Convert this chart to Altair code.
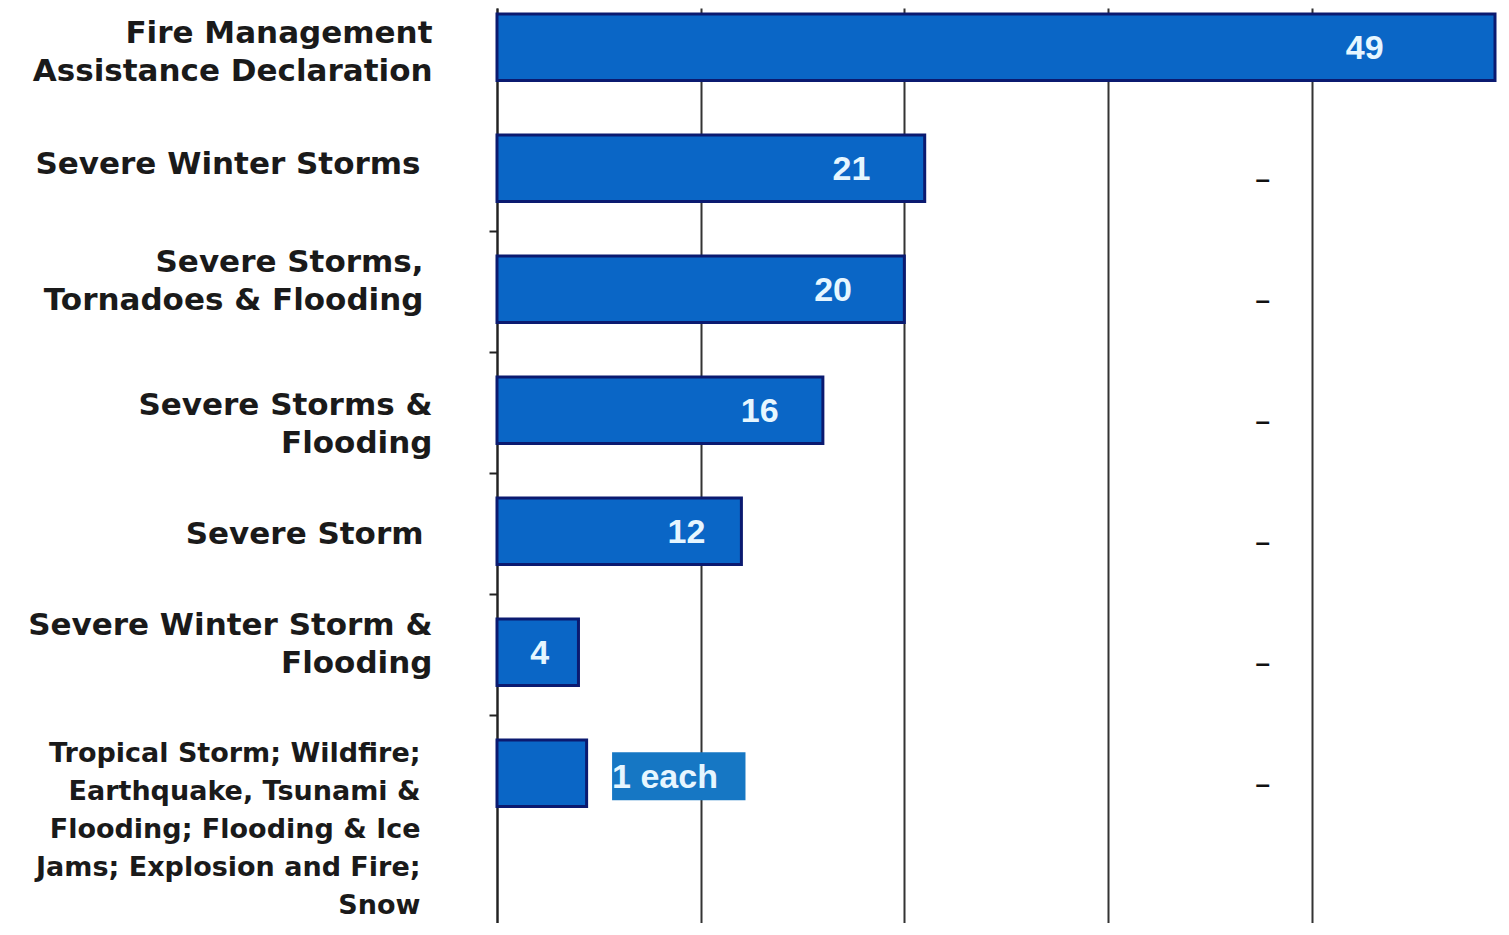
import altair as alt
import pandas as pd

categories = [
    "Fire Management\nAssistance Declaration",
    "Severe Winter Storms",
    "Severe Storms,\nTornadoes & Flooding",
    "Severe Storms &\nFlooding",
    "Severe Storm",
    "Severe Winter Storm &\nFlooding",
    "Tropical Storm; Wildfire;\nEarthquake, Tsunami &\nFlooding; Flooding & Ice\nJams; Explosion and Fire;\nSnow",
]
values = [49, 21, 20, 16, 12, 4, 4.4]
value_labels = ["49", "21", "20", "16", "12", "4", ""]
note_labels = ["", "", "", "", "", "", "1 each"]
dash_marks = ["", "–", "–", "–", "–", "–", "–"]
dash_x = [37.6] * 7
grid_values = [0, 10, 20, 30, 40]

df = pd.DataFrame({
    "cat": categories,
    "value": values,
    "vlabel": value_labels,
    "note": note_labels,
    "dash": dash_marks,
    "dash_x": dash_x,
})

FILL = "#0A66C6"
EDGE = "#0B1A70"
LABEL_FONT = "DejaVu Sans"

label_offset = {
    "condition": [
        {"test": "indexof(datum.value, 'Snow') >= 0", "value": -19},
        {"test": "indexof(datum.value, 'Storms &') >= 0", "value": -4},
        {"test": "indexof(datum.value, 'Tornadoes') >= 0", "value": -26},
        {"test": "indexof(datum.value, 'Storm &') >= 0", "value": -26},
        {"test": "indexof(datum.value, 'Fire Management') >= 0", "value": -13},
        {"test": "datum.value == 'Severe Storm'", "value": 4},
    ],
    "value": -3,
}
label_padding = {
    "condition": [
        {"test": "indexof(datum.value, 'Snow') >= 0", "value": 69},
        {"test": "datum.value == 'Severe Winter Storms'", "value": 69},
        {"test": "indexof(datum.value, 'Tornadoes') >= 0", "value": 66},
        {"test": "datum.value == 'Severe Storm'", "value": 66},
    ],
    "value": 57,
}
label_size = {
    "condition": {"test": "indexof(datum.value, 'Snow') >= 0", "value": 27},
    "value": 31,
}
tick_opacity = {
    "condition": {"test": "datum.value == 'Severe Winter Storms'", "value": 0},
    "value": 1,
}

y = alt.Y(
    "cat:N",
    sort=categories,
    title=None,
    scale=alt.Scale(paddingInner=0.45, paddingOuter=0.506, align=0.049),
    axis=alt.Axis(
        labelExpr="split(datum.label, '\\n')",
        labelFont=LABEL_FONT,
        labelFontWeight="bold",
        labelFontSize=label_size,
        labelLineHeight=38,
        labelColor="#1a1a1a",
        labelPadding=label_padding,
        labelLimit=600,
        labelOffset=label_offset,
        ticks=True,
        tickSize=8,
        tickColor="#222222",
        tickWidth=2,
        tickOpacity=tick_opacity,
        bandPosition=-0.375,
        domain=True,
        domainColor="#222222",
        domainWidth=2,
    ),
)

xscale = alt.Scale(domain=[0, 49], nice=False, zero=True)
xaxis = alt.Axis(
    values=grid_values,
    labels=False,
    ticks=False,
    domain=False,
    grid=True,
    gridColor="#333333",
    gridWidth=2,
    title=None,
)

base = alt.Chart(df)

bars = base.mark_bar(fill=FILL, stroke=EDGE, strokeWidth=3).encode(
    x=alt.X("value:Q", scale=xscale, axis=xaxis),
    y=y,
)

vlabels = base.transform_calculate(
    lx="datum.value * 0.9 - 1.5"
).mark_text(
    font="Liberation Sans", fontWeight="bold", fontSize=34,
    color="#E6F6FF", align="center", baseline="middle", dy=2,
).encode(
    x=alt.X("lx:Q", scale=xscale, axis=xaxis),
    y=y,
    text="vlabel:N",
)

note_box = base.transform_filter("datum.note != ''").transform_calculate(
    nx="datum.value + 1.25", nx2="datum.value + 7.8"
).mark_bar(size=48, fill="#1677C4", yOffset=3).encode(
    x=alt.X("nx:Q", scale=xscale, axis=xaxis),
    x2="nx2:Q",
    y=y,
)

note_text = base.transform_filter("datum.note != ''").transform_calculate(
    nx="datum.value + 1.25"
).mark_text(
    font="Liberation Sans", fontWeight="bold", fontSize=34,
    color="#E6F6FF", align="left", baseline="middle", dy=5,
).encode(
    x=alt.X("nx:Q", scale=xscale, axis=xaxis),
    y=y,
    text="note:N",
)

dashes = base.transform_filter("datum.dash != ''").mark_text(
    font="Liberation Sans", fontWeight="bold", fontSize=26,
    color="#111111", align="center", baseline="middle", dy=12,
).encode(
    x=alt.X("dash_x:Q", scale=xscale, axis=xaxis),
    y=y,
    text="dash:N",
)

chart = alt.layer(bars, vlabels, note_box, note_text, dashes).properties(
    width=998, height=915,
    autosize=alt.AutoSizeParams(type="none"),
    padding={"left": 489, "top": 0, "right": 6, "bottom": 0},
    background="white",
).configure_view(stroke="transparent", strokeWidth=0)

chart.save("out.html", embed_options={"renderer": "svg", "actions": False})
